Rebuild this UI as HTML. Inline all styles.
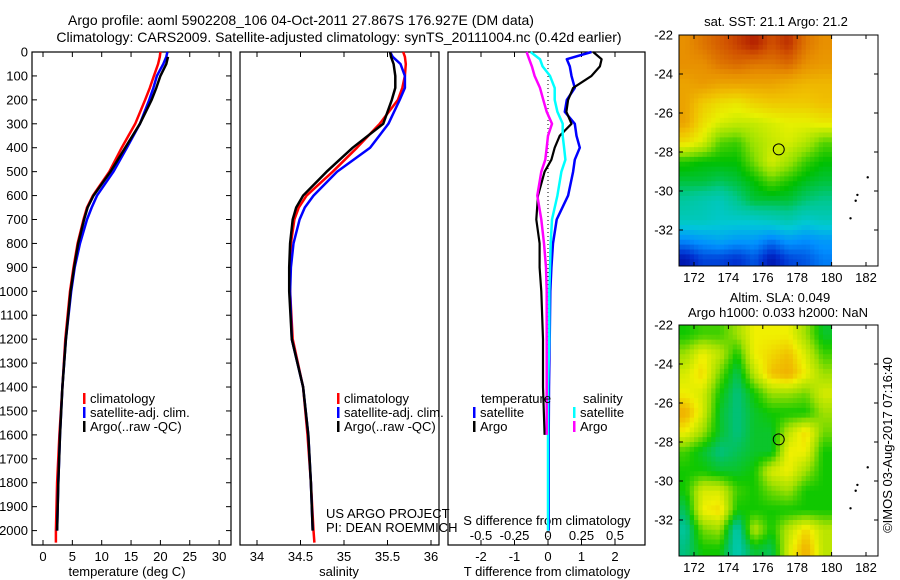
<!DOCTYPE html>
<html><head><meta charset="utf-8">
<style>
html,body{margin:0;padding:0;background:#fff;}
svg{display:block;font-family:"Liberation Sans",sans-serif;}
text{font-size:13px;fill:#000;}
.tt{font-size:14px;}
</style></head>
<body>
<svg id="fig" width="900" height="580" viewBox="0 0 900 580" xmlns="http://www.w3.org/2000/svg">
<rect x="0" y="0" width="900" height="580" fill="#fff"/>
<text class="tt" x="301" y="25" text-anchor="middle">Argo profile: aoml 5902208_106 04-Oct-2011 27.867S 176.927E (DM data)</text>
<text class="tt" x="339" y="42" text-anchor="middle">Climatology: CARS2009. Satellite-adjusted climatology: synTS_20111004.nc (0.42d earlier)</text>
<text x="127" y="576" text-anchor="middle">temperature (deg C)</text>
<text x="339" y="576" text-anchor="middle">salinity</text>
<text x="547" y="576" text-anchor="middle">T difference from climatology</text>
<text x="547" y="525" text-anchor="middle">S difference from climatology</text>
<text x="326" y="518">US ARGO PROJECT</text>
<text x="326" y="532">PI: DEAN ROEMMICH</text>
<text x="776" y="26" text-anchor="middle">sat. SST: 21.1 Argo: 21.2</text>
<text x="780" y="302" text-anchor="middle">Altim. SLA: 0.049</text>
<text x="778" y="317" text-anchor="middle">Argo h1000: 0.033 h2000: NaN</text>
<text x="0" y="0" text-anchor="middle" transform="translate(892,445) rotate(-90)">©IMOS 03-Aug-2017 07:16:40</text>
<g id="g"></g>
</svg>
<script>
// ---- profile data ----
const depths = [0,20,50,100,150,200,300,400,500,600,650,700,800,900,1000,1200,1400,1600,1800,2000,2050];
const tempClim = [20.0,19.9,19.6,18.9,18.2,17.4,15.7,13.4,11.3,8.5,7.5,6.9,5.9,5.2,4.6,3.8,3.3,2.8,2.4,2.2,2.2];
const tempSat = [21.2,21.0,20.5,19.4,18.8,18.1,16.5,14.3,12.0,9.2,8.3,7.5,6.3,5.4,4.8,3.9,3.3,2.9,2.6,2.4,null];
const tempArgo = [null,21.3,21.0,20.0,19.3,18.5,16.5,14.0,11.5,8.6,7.6,7.0,6.0,5.3,4.7,3.9,3.3,2.9,2.6,2.4,null];
const salClim = [35.68,35.70,35.71,35.70,35.67,35.62,35.41,35.15,34.87,34.57,34.48,34.43,34.39,34.38,34.38,34.41,34.53,34.58,34.62,34.65,34.66];
const salSat = [35.53,35.56,35.65,35.70,35.70,35.64,35.51,35.30,34.92,34.65,34.55,34.49,34.42,34.39,34.38,34.40,34.53,34.59,34.62,34.64,null];
const salArgo = [35.53,35.54,35.57,35.59,35.59,35.55,35.45,35.10,34.80,34.53,34.45,34.41,34.38,34.37,34.37,34.40,34.53,34.59,34.62,34.64,null];
// ---- difference data ----
const diffDepths = [0,30,60,100,150,200,250,300,350,400,450,500,600,700,800,900,1000,1200,1400,1600,1800,2000];
const tDiffSat = [1.3,0.56,0.65,0.7,0.8,0.56,0.5,0.8,0.85,0.95,0.8,0.75,0.6,0.26,0.15,0.1,0.07,0.05,0.03,0.02,0.02,0.02];
const tDiffArgo = [1.35,1.6,1.55,1.3,0.75,0.6,0.55,0.7,0.35,0.2,0.1,-0.1,-0.3,-0.35,-0.25,-0.25,-0.2,-0.15,-0.15,-0.1,null,null];
const sDiffSat = [-0.13,-0.06,-0.04,0.015,0.05,0.05,0.07,0.11,0.11,0.12,0.13,0.10,0.07,0.03,0.02,0.015,0.01,0.01,0.0,0.0,0.0,0.0];
const sDiffArgo = [-0.16,-0.14,-0.12,-0.1,-0.06,-0.035,-0.01,0.03,0.0,-0.01,-0.02,-0.05,-0.08,-0.05,-0.03,-0.015,-0.01,-0.01,-0.01,-0.01,null,null];
// ---- ticks ----
const depthTicks = [0,100,200,300,400,500,600,700,800,900,1000,1100,1200,1300,1400,1500,1600,1700,1800,1900,2000];
const tempTicks = [0,5,10,15,20,25,30];
const salTicks = [34,34.5,35,35.5,36];
const tDiffTicks = [-2,-1,0,1,2];
const sDiffTicks = [-0.5,-0.25,0,0.25,0.5];
const sDiffTickLabels = ["-0.5","-0.25","0","0.25","0.5"];
const lonTicks = [172,174,176,178,180,182];
const latTicks = [-22,-24,-26,-28,-30,-32];
// ---- map data (1-degree cells, rows from -22 southwards, cols from 171E) ----
const gridLon0 = 171, gridLat0 = -22;
const sstGrid = [
[23,23.2,23.4,23.6,23.8,23.5,23.7,23.2,23],
[23,23,23.2,23.3,23.2,23.2,23.3,23,22.9],
[22.8,22.9,22.8,22.8,22.8,22.8,22.7,22.6,22.6],
[22.8,22.4,22.2,22.1,22.3,22.4,22.4,22.4,22.5],
[22.8,22.2,21.9,21.8,21.8,21.9,22,22,22.1],
[22.2,21.9,21.3,21.2,21.6,21.8,21.9,21.7,21.3],
[21.1,21,21,21,21.4,21.9,21.6,21.2,21],
[20.8,20.8,20.7,20.8,21,21.3,21.1,20.9,20.8],
[20.4,20.3,20.2,20.5,20.8,20.8,20.8,20.6,20.5],
[20.2,20.2,20.1,20.1,20.1,20.2,20.3,20.1,20.2],
[19.5,19.6,19.7,19.6,19.6,19.4,19.6,19.5,19.6],
[18.8,19.1,19.1,19,19.2,18.8,19.1,19.2,19.4]];
const slaGrid = [
[0.0,0.1,0.1,0.3,0.6,0.6,0.6,0.3,-0.1],
[0.3,0.6,0.4,0.0,0.6,0.7,0.8,0.5,0.1],
[0.5,0.7,0.2,-0.2,0.4,0.8,0.9,0.6,0.3],
[0.6,0.5,0.0,-0.3,0.0,0.3,0.3,0.2,0.5],
[0.9,0.5,-0.1,-0.3,-0.1,0.0,0.0,0.0,0.3],
[0.6,0.3,-0.1,-0.3,-0.1,-0.1,0.4,0.7,0.2],
[0.1,-0.1,-0.3,-0.2,-0.1,-0.1,0.6,0.6,0.0],
[0.0,0.0,-0.1,-0.1,0.0,0.5,0.6,0.3,0.0],
[0.0,0.5,0.5,0.1,0.0,0.2,0.3,0.0,0.0],
[-0.2,0.6,0.7,0.0,0.0,0.0,0.0,0.0,0.0],
[-0.4,0.2,0.3,-0.5,0.4,0.0,0.4,0.7,0.4],
[-0.3,0.0,0.0,-0.5,-0.1,-0.2,0.5,0.9,0.4]];
const floatLon = 176.927, floatLat = -27.867;
const islandLon = [182.1,181.5,181.4,181.1];
const islandLat = [-29.3,-30.2,-30.5,-31.4];

const NS = "http://www.w3.org/2000/svg";
const G = document.getElementById('g');
function mk(tag, attrs, parent){const e=document.createElementNS(NS,tag);for(const k in attrs)e.setAttribute(k,attrs[k]);(parent||G).appendChild(e);return e;}

const Y0=52, Y1=545;
const yD = d => Y0 + d*0.2393;
const xT = v => 43 + v*5.87;
const xS = v => 257 + (v-34)*87;
const xTD = v => 548 + v*33.5;
const xSD = v => 548 + v*134;

function pathFrom(xs, ys, fx, fy){let d='',pen=false;for(let i=0;i<xs.length;i++){if(xs[i]==null){pen=false;continue;}
 const X=fx(xs[i]).toFixed(1),Yv=fy(ys[i]).toFixed(1);d+=(pen?'L':'M')+X+' '+Yv;pen=true;}return d;}

const panels=[{x0:32,x1:231,name:'temperature-panel'},{x0:240,x1:439,name:'salinity-panel'},{x0:448,x1:645,name:'difference-panel'}];
panels.forEach((p,i)=>{
 const r=mk('rect',{x:p.x0,y:Y0,width:p.x1-p.x0,height:Y1-Y0,fill:'none',stroke:'#000','stroke-width':1.2});
 
 
});
depthTicks.forEach(d=>{
 mk('line',{x1:32,x2:37,y1:yD(d),y2:yD(d),stroke:'#000'});
 mk('line',{x1:226,x2:231,y1:yD(d),y2:yD(d),stroke:'#000'});
 const t=mk('text',{x:28,y:yD(d)+4.5,'text-anchor':'end'});t.textContent=d;
 
 
});
function xTicks(ticks,fx,labels,ly){
 ticks.forEach((v,i)=>{const X=fx(v);
  mk('line',{x1:X,x2:X,y1:Y0,y2:Y0+5,stroke:'#000'});
  mk('line',{x1:X,x2:X,y1:Y1-5,y2:Y1,stroke:'#000'});
  const t=mk('text',{x:X,y:ly,'text-anchor':'middle'});t.textContent=labels[i];
  
  
 });
}
xTicks(tempTicks,xT,tempTicks.map(String),561);
xTicks(salTicks,xS,salTicks.map(String),561);
xTicks(tDiffTicks,xTD,tDiffTicks.map(String),561);
sDiffTicks.forEach((v,i)=>{const t=mk('text',{x:xSD(v),y:540,'text-anchor':'middle'});t.textContent=sDiffTickLabels[i];
 
 });
const zl=mk('line',{x1:548,x2:548,y1:Y0,y2:Y1,stroke:'#000','stroke-dasharray':'1 3'});



function series(vals,ys,fx,color,w,name){
 const p=mk('path',{d:pathFrom(vals,ys,fx,yD),fill:'none',stroke:color,'stroke-width':w,'stroke-linejoin':'round'});
 
 
}
series(tempClim,depths,xT,'#ff0000',2.5,'temp-climatology-line');
series(tempSat,depths,xT,'#0000ff',2.5,'temp-satellite-line');
series(tempArgo,depths,xT,'#000000',2.5,'temp-argo-line');
series(salClim,depths,xS,'#ff0000',2.5,'salinity-climatology-line');
series(salSat,depths,xS,'#0000ff',2.5,'salinity-satellite-line');
series(salArgo,depths,xS,'#000000',2.5,'salinity-argo-line');
series(tDiffSat,diffDepths,xTD,'#0000ff',2.5,'tdiff-satellite-line');
series(tDiffArgo,diffDepths,xTD,'#000000',2.2,'tdiff-argo-line');
series(sDiffSat,diffDepths,xSD,'#00ffff',2.5,'sdiff-satellite-line');
series(sDiffArgo,diffDepths,xSD,'#ff00ff',2.5,'sdiff-argo-line');

function legend(x,y,color,label,name){
 if(color){const b=mk('rect',{x:x,y:y-10,width:2.5,height:11,fill:color});
  
  }
 const t=mk('text',{x:x+7,y:y});t.textContent=label;
 
 
}
legend(83,403,'#ff0000','climatology','legend-climatology');
legend(83,417,'#0000ff','satellite-adj. clim.','legend-satellite');
legend(83,431,'#000000','Argo(..raw -QC)','legend-argo');
legend(337,403,'#ff0000','climatology','legend-climatology-sal');
legend(337,417,'#0000ff','satellite-adj. clim.','legend-satellite-sal');
legend(337,431,'#000000','Argo(..raw -QC)','legend-argo-sal');
legend(474,403,null,'temperature','legend-temperature-heading');
legend(473,417,'#0000ff','satellite','legend-tdiff-satellite');
legend(473,431,'#000000','Argo','legend-tdiff-argo');
legend(576,403,null,'salinity','legend-salinity-heading');
legend(573,417,'#00ffff','satellite','legend-sdiff-satellite');
legend(573,431,'#ff00ff','Argo','legend-sdiff-argo');

// ---- maps ----
function cmap(stops,v){if(v<=stops[0][0])return `rgb(${stops[0][1]})`;
 for(let i=1;i<stops.length;i++){if(v<=stops[i][0]){const a=stops[i-1],b=stops[i],f=(v-a[0])/(b[0]-a[0]);
  const c=a[1].map((q,k)=>Math.round(q+(b[1][k]-q)*f));return `rgb(${c})`;}}
 return `rgb(${stops[stops.length-1][1]})`;}
const sstStops=[[18.6,[0,0,144]],[19.0,[0,48,208]],[19.5,[0,144,255]],[20.0,[0,200,216]],[20.5,[0,200,144]],[21.0,[0,192,0]],[21.5,[144,224,0]],[22.0,[232,240,0]],[22.5,[240,192,0]],[23.0,[232,144,0]],[23.5,[208,80,0]],[24.0,[160,0,0]]];
const slaStops=[[-0.6,[0,208,208]],[-0.3,[0,192,128]],[0,[16,200,0]],[0.3,[160,224,0]],[0.6,[240,240,0]],[0.8,[240,192,0]],[1.0,[240,160,0]]];

// sample grid bilinearly at cell centres for smooth rendering
function sample(grid,lon,lat){
 const nr=grid.length,nc=grid[0].length;
 let fc=lon-(gridLon0+0.5), fr=(gridLat0-0.5)-lat;
 fc=Math.max(0,Math.min(nc-1,fc)); fr=Math.max(0,Math.min(nr-1,fr));
 const c0=Math.floor(fc),r0=Math.floor(fr),c1=Math.min(nc-1,c0+1),r1=Math.min(nr-1,r0+1);
 const tx=fc-c0,ty=fr-r0;
 return grid[r0][c0]*(1-tx)*(1-ty)+grid[r0][c1]*tx*(1-ty)+grid[r1][c0]*(1-tx)*ty+grid[r1][c1]*tx*ty;
}

function drawMap(oy,grid,stops,name){
 const MX0=679,MX1=878,MY0=oy,MY1=oy+231;
 const lonX=l=>694+(l-172)*17.2, latY=la=>oy+(-22-la)*19.5;
 const cid='clip'+oy;
 const cp=mk('clipPath',{id:cid});mk('rect',{x:MX0,y:MY0,width:MX1-MX0,height:MY1-MY0},cp);
 const gg=mk('g',{'clip-path':`url(#${cid})`});
 
 
 const step=0.25, nC=grid[0].length/step, nR=grid.length/step;
 for(let r=0;r<nR;r++){for(let c=0;c<nC;c++){
  const lon=gridLon0+c*step, lat=gridLat0-r*step;
  const v=sample(grid,lon+step/2,lat-step/2);
  const cell=mk('rect',{x:lonX(lon).toFixed(2),y:latY(lat).toFixed(2),width:(17.2*step+0.4).toFixed(2),height:(19.5*step+0.4).toFixed(2),fill:cmap(stops,v)},gg);
  
  
 }}
 const fr=mk('rect',{x:MX0,y:MY0,width:MX1-MX0,height:MY1-MY0,fill:'none',stroke:'#000','stroke-width':1});
 
 
 lonTicks.forEach(l=>{const X=lonX(l);
  mk('line',{x1:X,x2:X,y1:MY0,y2:MY0+4,stroke:'#000'});mk('line',{x1:X,x2:X,y1:MY1-4,y2:MY1,stroke:'#000'});});
 lonTicks.forEach(l=>{const t=mk('text',{x:lonX(l),y:MY1+16,'text-anchor':'middle'});t.textContent=l;
  
  });
 latTicks.forEach(la=>{const Yv=latY(la);
  mk('line',{x1:MX0,x2:MX0+4,y1:Yv,y2:Yv,stroke:'#000'});mk('line',{x1:MX1-4,x2:MX1,y1:Yv,y2:Yv,stroke:'#000'});
  const t=mk('text',{x:673,y:Yv+4.5,'text-anchor':'end'});t.textContent=la;
  
  });
 islandLon.forEach((l,i)=>{const d=mk('circle',{cx:lonX(l),cy:latY(islandLat[i]),r:1.2,fill:'#000'});
  
  });
 const fc=mk('circle',{cx:lonX(floatLon),cy:latY(floatLat),r:5.5,fill:'none',stroke:'#000','stroke-width':1});
 
 
}
drawMap(35,sstGrid,sstStops,'sst-map');
drawMap(325,slaGrid,slaStops,'sla-map');
</script>
</body></html>
